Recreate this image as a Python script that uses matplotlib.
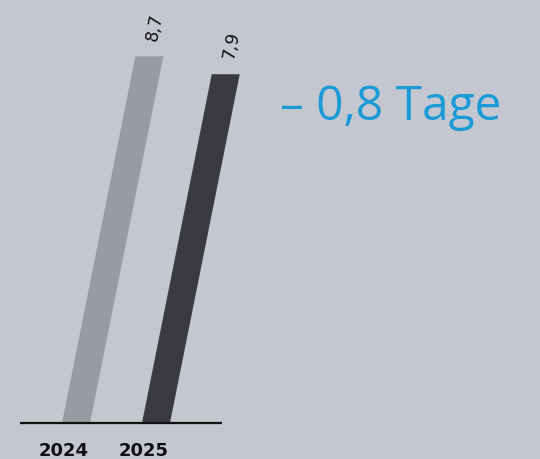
#!/usr/bin/env python3
"""Slanted two-bar comparison of average duration, 2024 vs 2025."""

import matplotlib

matplotlib.use("Agg")
import matplotlib.pyplot as plt
import matplotlib.transforms as mtransforms

years = ["2024", "2025"]
values = [8.7, 7.9]
value_labels = ["8,7", "7,9"]
headline = "– 0,8 Tage"

BG = "#c4c7d0"
BAR_COLORS = ["#979ca4", "#3a3b3f"]
BLUE = "#1a9ad6"
BASE = -7.6          # value where the bars start (axis is cut)
SLANT = 0.2          # horizontal shift per pixel of bar height

W_PX, H_PX, DPI = 540, 459, 100

fig = plt.figure(figsize=(W_PX / DPI, H_PX / DPI), dpi=DPI)
fig.patch.set_facecolor(BG)
ax = fig.add_axes([0, 0, 1, 1])
ax.set_facecolor(BG)
ax.set_xlim(-0.95, 5.8)
ax.set_ylim(-9.2, 11.2)
ax.axis("off")

# shear about the baseline in display space so the bars lean right
y0 = ax.transData.transform((0, BASE))[1]
shear = mtransforms.Affine2D(
    [[1, SLANT, -SLANT * y0], [0, 1, 0], [0, 0, 1]]
)
slanted = ax.transData + shear

x = list(range(len(years)))
bars = ax.bar(
    x,
    [v - BASE for v in values],
    bottom=BASE,
    width=0.35,
    color=BAR_COLORS,
    zorder=2,
)
for b in bars:
    b.set_transform(slanted)

ax.plot([-0.7, 1.825], [BASE, BASE], color="#111111", lw=1.6, zorder=3,
        solid_capstyle="butt")

for xi, v, lab in zip(x, values, value_labels):
    ax.text(xi, v + 1.3, lab, transform=slanted, rotation=78.6,
            ha="center", va="center", fontsize=12.5, color="#111111",
            family="DejaVu Sans")

for xi, yr in zip(x, years):
    ax.text(xi - 0.155, -9.06, yr, ha="center", va="baseline", fontsize=13,
            fontweight="bold", color="#111111", family="DejaVu Sans")

ax.text(0.518, 0.767, headline, transform=ax.transAxes, ha="left",
        va="center", fontsize=34.5, color=BLUE, family="Open Sans")

fig.savefig("out.png", dpi=DPI, facecolor=BG)
